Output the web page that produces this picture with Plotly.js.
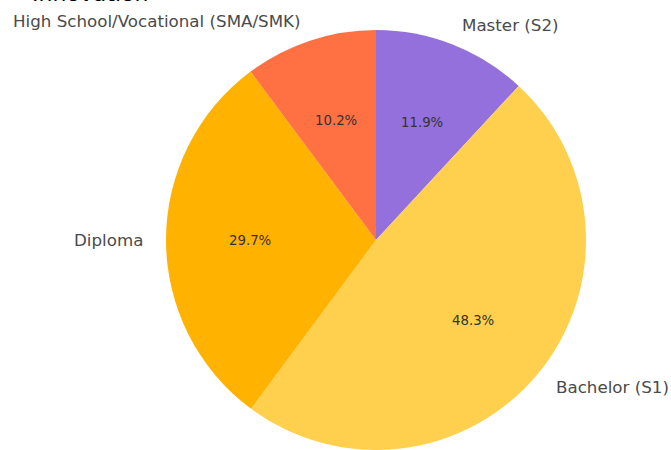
<!DOCTYPE html>
<html>
<head>
<meta charset="utf-8">
<script src="https://cdn.plot.ly/plotly-3.0.1.min.js"></script>
<style>html,body{margin:0;padding:0;background:#fff;}#chart{width:671px;height:450px;}</style>
</head>
<body>
<div id="chart"></div>
<script>
// Data (order as drawn, clockwise from 12 o'clock)
const categories = ["Master (S2)", "Bachelor (S1)", "Diploma", "High School/Vocational (SMA/SMK)"];
const shares = [11.9, 48.3, 29.7, 10.2];
const sliceColors = ["#9370DB", "#FFD04D", "#FFB300", "#FF7043"];
const titleFragment = "Innovation";

const W = 671, H = 450;
const cxPx = 376, cyPx = 240, rPx = 210;

const total = shares.reduce((a, b) => a + b, 0);
const annotations = [];
let cum = 0;
shares.forEach((v, i) => {
  const midFrac = (cum + v / 2) / total;
  cum += v;
  const ang = Math.PI / 2 - midFrac * 2 * Math.PI; // standard angle
  const c = Math.cos(ang), s = Math.sin(ang);
  // outer label at 1.1 R
  const lx = (cxPx + 1.1 * rPx * c) / W;
  const ly = 1 - (cyPx - 1.1 * rPx * s) / H;
  annotations.push({
    x: lx, y: ly, xref: "paper", yref: "paper",
    text: categories[i], showarrow: false,
    xanchor: c >= 0 ? "left" : "right", yanchor: "middle",
    font: {family: "DejaVu Sans", size: 16.7, color: "#4a4a4a"}
  });
  // percent label at 0.6 R
  const px = (cxPx + 0.6 * rPx * c) / W;
  const py = 1 - (cyPx - 0.6 * rPx * s) / H;
  annotations.push({
    x: px, y: py, xref: "paper", yref: "paper",
    text: v.toFixed(1) + "%", showarrow: false,
    xanchor: "center", yanchor: "middle",
    font: {family: "DejaVu Sans", size: 13.3, color: "#333"}
  });
});
annotations.push({
  x: 150 / W, y: 1 - 8 / H, xref: "paper", yref: "paper",
  text: titleFragment, showarrow: false, xanchor: "right", yanchor: "bottom",
  font: {family: "DejaVu Sans", size: 22, color: "#000"}
});

const trace = {
  type: "pie",
  labels: categories,
  values: shares,
  sort: false,
  direction: "clockwise",
  rotation: 0,
  textinfo: "none",
  hoverinfo: "label+percent",
  marker: {colors: sliceColors, line: {width: 0}},
  domain: {x: [(cxPx - rPx) / W, (cxPx + rPx) / W], y: [(H - cyPx - rPx) / H, (H - cyPx + rPx) / H]},
  showlegend: false
};

Plotly.newPlot("chart", [trace], {
  width: W, height: H,
  margin: {l: 0, r: 0, t: 0, b: 0},
  paper_bgcolor: "#fff",
  showlegend: false,
  annotations: annotations
}, {displayModeBar: false, staticPlot: true});
</script>
</body>
</html>
